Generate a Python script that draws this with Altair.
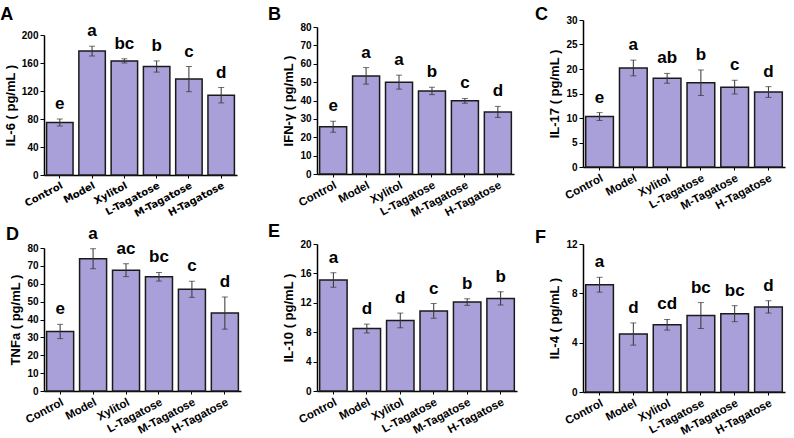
import altair as alt
import pandas as pd

groups = ["Control", "Model", "Xylitol", "L-Tagatose", "M-Tagatose", "H-Tagatose"]

# IL-6
il6_mean = [75, 177, 163, 155, 137, 114]
il6_sd = [5, 7, 3, 8, 18, 11]
il6_sig = ["e", "a", "bc", "b", "c", "d"]

# IFN-γ
ifn_mean = [25.7, 53.4, 50.0, 45.2, 39.8, 33.8]
ifn_sd = [3.0, 4.5, 3.8, 2.0, 1.3, 3.0]
ifn_sig = ["e", "a", "a", "b", "c", "d"]

# IL-17
il17_mean = [10.3, 20.2, 18.1, 17.2, 16.3, 15.3]
il17_sd = [0.8, 1.6, 1.0, 2.6, 1.4, 1.1]
il17_sig = ["e", "a", "ab", "b", "c", "d"]

# TNFa
tnf_mean = [33.3, 74.0, 67.6, 63.9, 56.9, 43.6]
tnf_sd = [4.0, 5.6, 3.6, 2.4, 4.5, 9.0]
tnf_sig = ["e", "a", "ac", "bc", "c", "d"]

# IL-10
il10_mean = [15.1, 8.5, 9.6, 10.9, 12.1, 12.6]
il10_sd = [1.0, 0.6, 1.0, 1.0, 0.45, 0.9]
il10_sig = ["a", "d", "d", "c", "b", "b"]

# IL-4
il4_mean = [8.7, 4.7, 5.45, 6.2, 6.35, 6.9]
il4_sd = [0.6, 0.9, 0.43, 1.05, 0.65, 0.5]
il4_sig = ["a", "d", "cd", "bc", "bc", "d"]

BAR_FILL = "#aaa0d9"
FONT = "Liberation Sans"


def panel(letter, ytitle, mean, sd, sig, ymax, step, width, height,
          title_offset, title_dx, label_font=FONT, label_size=11.5):
    df = pd.DataFrame({
        "group": groups,
        "mean": mean,
        "lo": [m - s for m, s in zip(mean, sd)],
        "hi": [m + s for m, s in zip(mean, sd)],
        "sig": sig,
    })
    ticks = list(range(0, ymax + 1, step))
    yscale = alt.Scale(domain=[0, ymax], nice=False, zero=True)
    yaxis = alt.Axis(
        title=ytitle,
        values=ticks,
        titleFont=FONT,
        titleFontSize=13,
        titleFontWeight="bold",
        titleColor="black",
        titlePadding=4,
        labelFont=FONT,
        labelFontSize=10,
        labelFontWeight="bold",
        labelColor="black",
        labelPadding=2,
        labelOverlap=False,
        labelFlush=False,
        tickSize=4,
        tickColor="black",
        domainColor="black",
        domainWidth=1.5,
        grid=False,
    )
    base = alt.Chart(df).encode(
        x=alt.X(
            "group:N",
            sort=groups,
            scale=alt.Scale(paddingInner=0.18, paddingOuter=0.08),
            axis=alt.Axis(
                title=None,
                labelAngle=332,
                labelAlign="right",
                labelBaseline="top",
                labelFont=label_font,
                labelFontSize=label_size,
                labelFontWeight="bold",
                labelColor="black",
                labelPadding=2,
                labelOverlap=False,
                tickSize=3,
                tickColor="black",
                domainColor="black",
                domainWidth=1.5,
            ),
        )
    )
    bars = base.mark_bar(
        fill=BAR_FILL, stroke="#1a1a1a", strokeWidth=1.5
    ).encode(y=alt.Y("mean:Q", scale=yscale, axis=yaxis))
    err = base.mark_rule(color="#333333", strokeWidth=1).encode(
        y=alt.Y("lo:Q", scale=yscale, axis=yaxis), y2="hi:Q"
    )
    cap_lo = base.mark_tick(color="#333333", size=6, thickness=1).encode(
        y=alt.Y("lo:Q", scale=yscale, axis=yaxis)
    )
    cap_hi = base.mark_tick(color="#333333", size=6, thickness=1).encode(
        y=alt.Y("hi:Q", scale=yscale, axis=yaxis)
    )
    labels = base.mark_text(
        font=FONT, fontSize=17, fontWeight="bold", color="black",
        baseline="bottom", dy=-6
    ).encode(y=alt.Y("hi:Q", scale=yscale, axis=yaxis), text="sig:N")

    return alt.layer(bars, err, cap_lo, cap_hi, labels).properties(
        width=width,
        height=height,
        title=alt.TitleParams(
            letter, anchor="start", frame="bounds", font=FONT,
            fontSize=18, fontWeight="bold", color="black",
            offset=title_offset, dx=title_dx,
        ),
    )


def spacer(h):
    # empty cell that sets how far a column starts below the top edge
    return alt.Chart(pd.DataFrame({"v": [0]})).mark_point(opacity=0).encode(
        x=alt.value(0), y=alt.value(0)
    ).properties(width=1, height=h)


pa = panel("A", "IL-6 ( pg/mL )", il6_mean, il6_sd, il6_sig, 200, 40,
           193, 140, -2, -4, label_font="DejaVu Sans", label_size=10)
pb = panel("B", "IFN-γ ( pg/mL )", ifn_mean, ifn_sd, ifn_sig, 80, 10,
           197, 147, -2, -15)
pc = panel("C", "IL-17 ( pg/mL )", il17_mean, il17_sd, il17_sig, 30, 5,
           202, 147, -9, -14)
pd_ = panel("D", "TNFa ( pg/mL )", tnf_mean, tnf_sd, tnf_sig, 80, 10,
            197, 143, -19, -4)
pe = panel("E", "IL-10 ( pg/mL )", il10_mean, il10_sd, il10_sig, 20, 4,
           200, 147, -2, -15)
pf = panel("F", "IL-4 ( pg/mL )", il4_mean, il4_sd, il4_sig, 12, 4,
           202, 148, -8, -14)

col1 = alt.vconcat(spacer(2), alt.vconcat(pa, pd_, spacing=5), spacing=0)
col2 = alt.vconcat(spacer(1), alt.vconcat(pb, pe, spacing=4), spacing=0)
col3 = alt.vconcat(spacer(1), alt.vconcat(pc, pf, spacing=17), spacing=0)

chart = alt.hconcat(
    col1,
    alt.hconcat(col2, col3, spacing=17),
    spacing=26,
).properties(
    padding={"left": 0, "top": 0, "right": 4, "bottom": 0},
    background="white",
).configure_view(stroke=None).configure_axis(labelOverlap=False)

chart.save("out.html", embed_options={"renderer": "svg", "actions": False})
